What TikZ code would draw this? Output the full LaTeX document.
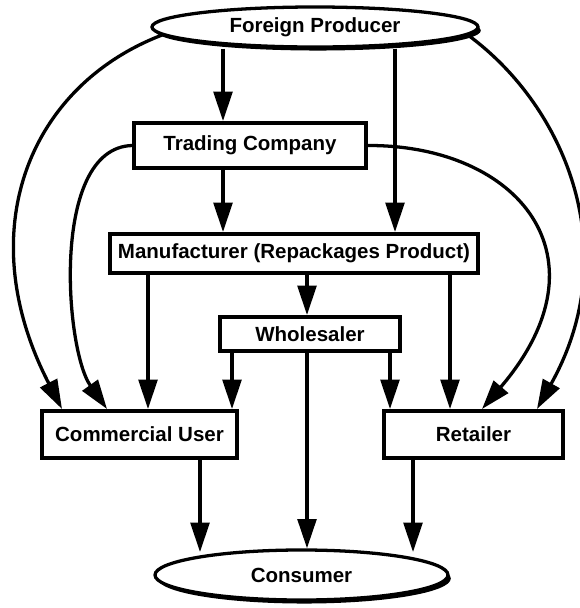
\documentclass[tikz,border=0pt]{standalone}
\usepackage{fontspec}
\setmainfont{Liberation Sans}
\newfontfamily\heavy{Liberation Sans Bold}
\usetikzlibrary{arrows.meta,shapes.geometric,shadows}

\begin{document}
\begin{tikzpicture}[x=0.03cm,y=-0.03cm,
  lbl/.style={font=\heavy\fontsize{17.5}{17.5}\selectfont},
  sz/.style 2 args={minimum width={#1*0.03cm-3.4pt},minimum height={#2*0.03cm-3.4pt}},
  box/.style={lbl,draw,line width=3.4pt,fill=white,inner sep=0pt},
  oval/.style={lbl,ellipse,draw,line width=2.8pt,fill=white,inner sep=0pt,
    drop shadow={shadow xshift=2.4pt,shadow yshift=-3pt,fill=black,opacity=1}},
  arr/.style={line width=2.8pt,-{Triangle[length=25pt,width=16pt]}}]

\useasboundingbox (0,0) rectangle (579,608);
\fill[white] (0,0) rectangle (579,608);

% sources, intermediaries and end points
\node[oval,sz={330}{44}] (fp) at (315,27)  {Foreign Producer};
\node[box,sz={236}{49}]  (tc) at (250,145.5) {Trading Company};
\node[box,sz={372}{43}]  (mf) at (294,253.5) {Manufacturer (Repackages Product)};
\node[box,sz={184}{38}]  (ws) at (310,334)   {Wholesaler};
\node[box,sz={199}{51}]  (cu) at (139.5,434.5) {Commercial User};
\node[box,sz={183}{51}]  (rt) at (473.5,434.5) {Retailer};
\node[oval,sz={297}{54}] (cn) at (301.5,575) {Consumer};

% straight flows
\draw[arr] (223,0 |- fp.south) -- (223,0 |- tc.north);
\draw[arr] (395,0 |- fp.south) -- (395,0 |- mf.north);
\draw[arr] (223,0 |- tc.south) -- (223,0 |- mf.north);
\draw[arr] (307,0 |- mf.south) -- (307,0 |- ws.north);
\draw[arr] (148,0 |- mf.south) -- (148,0 |- cu.north);
\draw[arr] (450,0 |- mf.south) -- (450,0 |- rt.north);
\draw[arr] (232,0 |- ws.south) -- (232,0 |- cu.north);
\draw[arr] (390,0 |- ws.south) -- (390,0 |- rt.north);
\draw[arr] (307,0 |- ws.south) -- (307,0 |- cn.north);
\draw[arr] (200,0 |- cu.south) -- (200,552);
\draw[arr] (413,0 |- rt.south) -- (413,552);

% curved flows
\draw[arr] (fp.183) .. controls (29,86) and (-30,231) .. (62,0 |- cu.north);
\draw[arr] (tc.west) .. controls (50,148) and (65,350) .. (107,0 |- cu.north);
\draw[arr] (tc.east) .. controls (518,145) and (612,257) .. (482,0 |- rt.north);
\draw[arr] (fp.357) .. controls (566,107) and (625,252) .. (537,0 |- rt.north);
\end{tikzpicture}
\end{document}
